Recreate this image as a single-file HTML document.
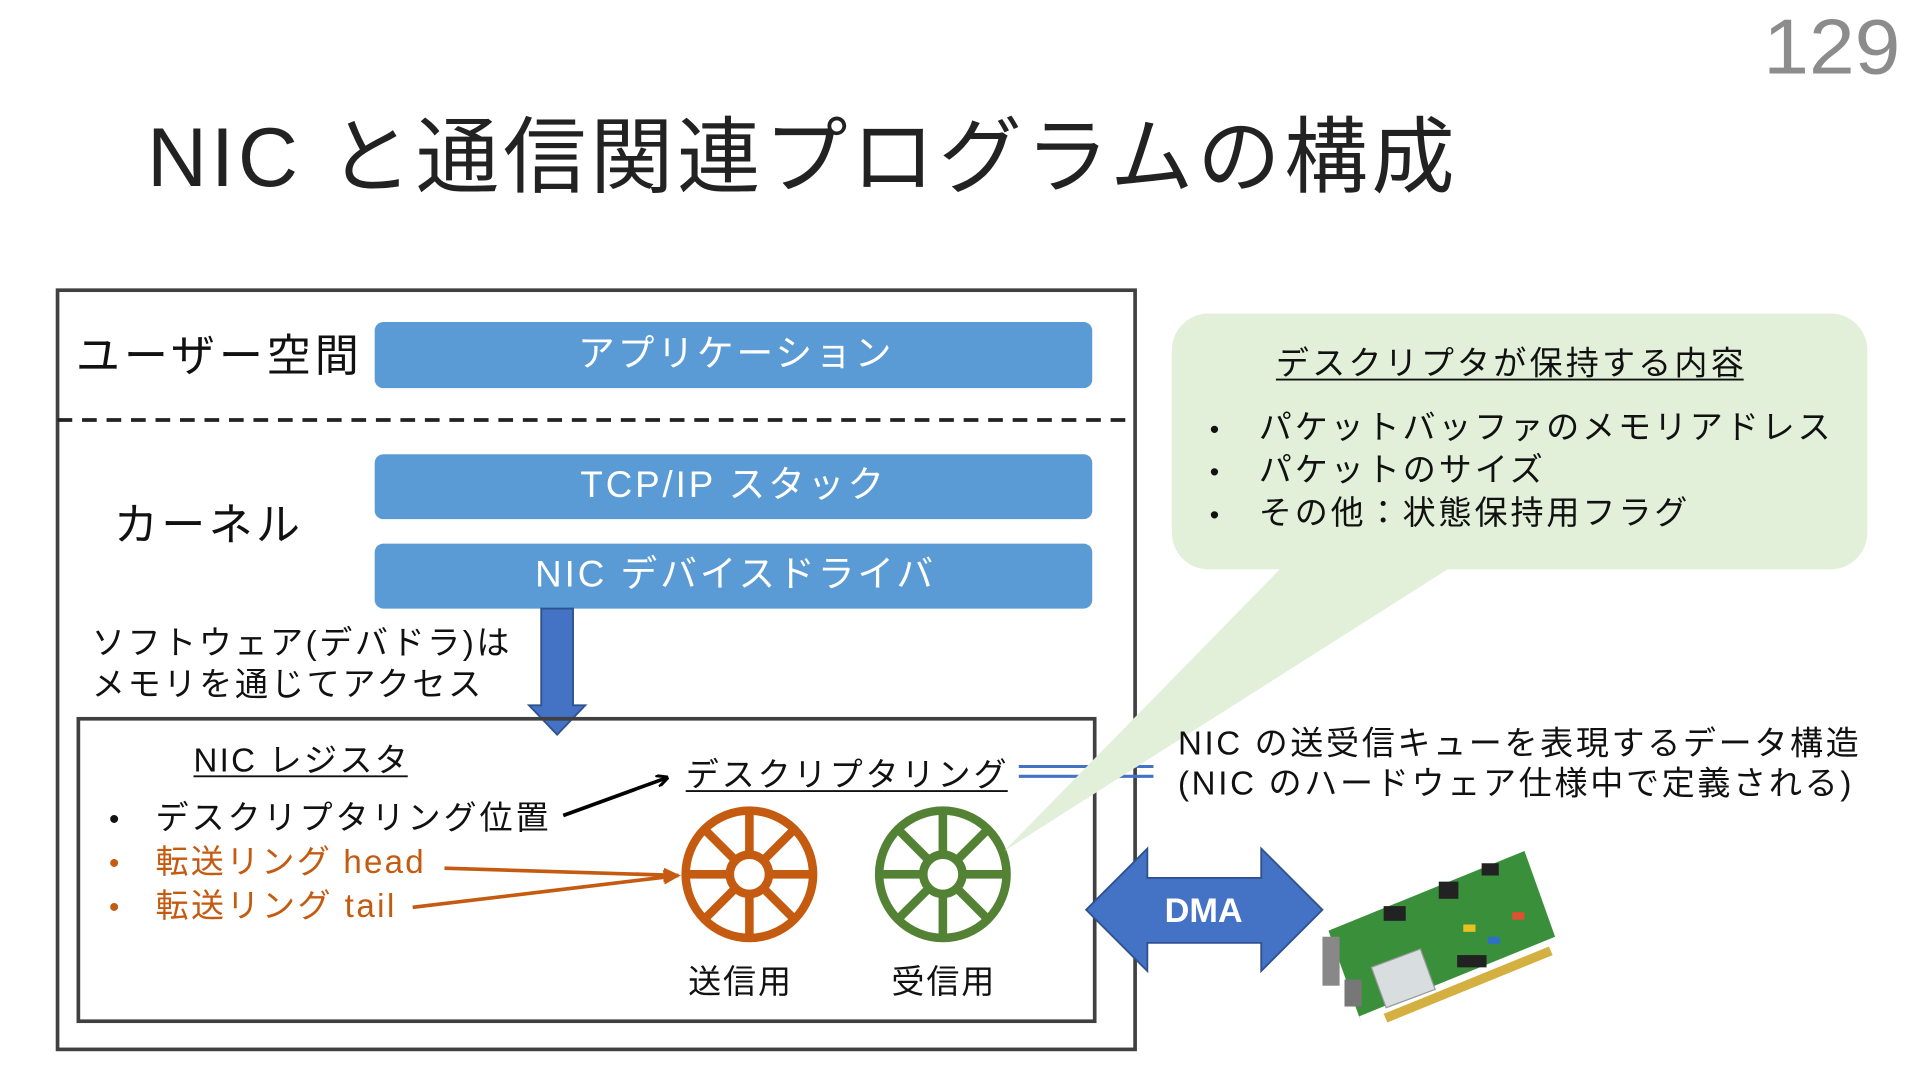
<!DOCTYPE html>
<html><head><meta charset="utf-8"><style>
html,body{margin:0;padding:0;background:#fff;}
svg{display:block;}
text{font-family:"Liberation Sans","Noto Sans CJK JP",sans-serif;}
</style></head><body>
<svg width="1920" height="1080" viewBox="0 0 1568 882" xmlns="http://www.w3.org/2000/svg">
<defs>
<marker id="ab" markerWidth="10" markerHeight="10" refX="9" refY="5" orient="auto" markerUnits="userSpaceOnUse"><path d="M0,0 L10,5 L0,10" fill="none" stroke="#000" stroke-width="2.5"/></marker>
<marker id="ao" markerWidth="14" markerHeight="12" refX="12" refY="6" orient="auto" markerUnits="userSpaceOnUse"><path d="M0,0 L14,6 L0,12 Z" fill="#C55A11"/></marker>
</defs>
<text x="1440" y="60" font-size="64" fill="#8c8c8c" textLength="112" lengthAdjust="spacingAndGlyphs">129</text>
<text x="120" y="152" font-size="68" fill="#222" textLength="1068">NIC と通信関連プログラムの構成</text>

<rect x="47" y="237" width="880" height="620" fill="none" stroke="#404040" stroke-width="3"/>
<line x1="47" y1="343" x2="927" y2="343" stroke="#222" stroke-width="3" stroke-dasharray="12,8"/>
<text x="62" y="303" font-size="36" fill="#111" textLength="231">ユーザー空間</text>
<rect x="306" y="263" width="586" height="54" rx="7" fill="#5B9BD5"/>
<text x="472" y="299" font-size="30" fill="#fff" textLength="256">アプリケーション</text>
<text x="93" y="441" font-size="36" fill="#111" textLength="152">カーネル</text>
<rect x="306" y="371" width="586" height="53" rx="7" fill="#5B9BD5"/>
<text x="474" y="406" font-size="30" fill="#fff" textLength="248">TCP/IP スタック</text>
<rect x="306" y="444" width="586" height="53" rx="7" fill="#5B9BD5"/>
<text x="437" y="479" font-size="30" fill="#fff" textLength="325">NIC デバイスドライバ</text>

<path d="M442,497 L468,497 L468,576 L478,576 L455,600 L432,576 L442,576 Z" fill="#4472C4" stroke="#2F528F" stroke-width="1.5"/>
<text x="75" y="534" font-size="27" fill="#111" textLength="341">ソフトウェア(デバドラ)は</text>
<text x="75" y="568" font-size="27" fill="#111" textLength="318">メモリを通じてアクセス</text>

<rect x="64" y="587" width="830" height="247" fill="none" stroke="#404040" stroke-width="3"/>
<text x="158" y="630" font-size="27" fill="#111" textLength="175">NIC レジスタ</text>
<line x1="158" y1="634" x2="333" y2="634" stroke="#111" stroke-width="1.5"/>
<text x="89" y="677" font-size="24" fill="#111">•</text>
<text x="127" y="677" font-size="27" fill="#111" textLength="321">デスクリプタリング位置</text>
<text x="89" y="713" font-size="24" fill="#C55A11">•</text>
<text x="127" y="713" font-size="27" fill="#C55A11" textLength="219">転送リング head</text>
<text x="89" y="749" font-size="24" fill="#C55A11">•</text>
<text x="127" y="749" font-size="27" fill="#C55A11" textLength="195">転送リング tail</text>
<line x1="460" y1="666" x2="545" y2="635" stroke="#000" stroke-width="3" marker-end="url(#ab)"/>
<text x="560" y="642" font-size="27" fill="#111" textLength="262">デスクリプタリング</text>
<line x1="560" y1="646" x2="823" y2="646" stroke="#111" stroke-width="1.5"/>
<line x1="832" y1="626" x2="942" y2="626" stroke="#4472C4" stroke-width="2.5"/>
<line x1="832" y1="634" x2="942" y2="634" stroke="#4472C4" stroke-width="2.5"/>
<line x1="363" y1="709" x2="554" y2="715" stroke="#C55A11" stroke-width="3" marker-end="url(#ao)"/>
<line x1="337" y1="741" x2="554" y2="715" stroke="#C55A11" stroke-width="3" marker-end="url(#ao)"/>

<g stroke="#C55A11" fill="none" stroke-width="7">
<circle cx="612" cy="714" r="52"/><circle cx="612" cy="714" r="16"/>
<path d="M612,662 V698 M612,730 V766 M560,714 H596 M628,714 H664 M575,677 L601,703 M623,725 L649,751 M649,677 L623,703 M601,725 L575,751"/>
</g>
<g stroke="#548235" fill="none" stroke-width="7">
<circle cx="770" cy="714" r="52"/><circle cx="770" cy="714" r="16"/>
<path d="M770,662 V698 M770,730 V766 M718,714 H754 M786,714 H822 M733,677 L759,703 M781,725 L807,751 M807,677 L781,703 M759,725 L733,751"/>
</g>
<text x="562" y="811" font-size="27" fill="#111" textLength="84">送信用</text>
<text x="728" y="811" font-size="27" fill="#111" textLength="84">受信用</text>

<path d="M1050,460 L1190,460 L820,695 Z" fill="#E2F0D9"/>
<rect x="957" y="256" width="568" height="209" rx="30" fill="#E2F0D9"/>
<text x="1042" y="306" font-size="27" fill="#111" textLength="382">デスクリプタが保持する内容</text>
<line x1="1042" y1="310" x2="1424" y2="310" stroke="#111" stroke-width="1.5"/>
<text x="988" y="358" font-size="22" fill="#111">•</text>
<text x="1028" y="358" font-size="27" fill="#111" textLength="467">パケットバッファのメモリアドレス</text>
<text x="988" y="393" font-size="22" fill="#111">•</text>
<text x="1028" y="393" font-size="27" fill="#111" textLength="232">パケットのサイズ</text>
<text x="988" y="428" font-size="22" fill="#111">•</text>
<text x="1028" y="428" font-size="27" fill="#111" textLength="350">その他：状態保持用フラグ</text>

<text x="962" y="616" font-size="27" fill="#111" textLength="556">NIC の送受信キューを表現するデータ構造</text>
<text x="962" y="649" font-size="27" fill="#111" textLength="550">(NIC のハードウェア仕様中で定義される)</text>

<path d="M887,743 L937,693 L937,717 L1030,717 L1030,693 L1080,743 L1030,793 L1030,770 L937,770 L937,793 Z" fill="#4472C4" stroke="#2F528F" stroke-width="1.5"/>
<text x="983" y="753" font-size="28" font-weight="bold" fill="#fff" text-anchor="middle">DMA</text>

<g>
<path d="M1085,760 L1245,695 L1270,765 L1110,830 Z" fill="#3a8f3a"/>
<path d="M1085,760 L1110,830 L1112,836 L1087,766 Z" fill="#1f5a1f"/>
<path d="M1120,790 L1160,775 L1172,808 L1132,823 Z" fill="#d8dde0" stroke="#999"/>
<rect x="1080" y="765" width="14" height="40" fill="#888"/>
<rect x="1098" y="800" width="14" height="22" fill="#777"/>
<rect x="1130" y="740" width="18" height="12" fill="#222"/>
<rect x="1175" y="720" width="16" height="14" fill="#222"/>
<rect x="1210" y="705" width="14" height="10" fill="#222"/>
<rect x="1195" y="755" width="10" height="6" fill="#e8c020"/>
<rect x="1215" y="765" width="10" height="6" fill="#3070c0"/>
<rect x="1235" y="745" width="10" height="6" fill="#e05030"/>
<rect x="1190" y="780" width="24" height="10" fill="#222"/>
<path d="M1130,828 L1265,773 L1268,780 L1133,835 Z" fill="#d4b040"/>
</g>
</svg>
</body></html>
